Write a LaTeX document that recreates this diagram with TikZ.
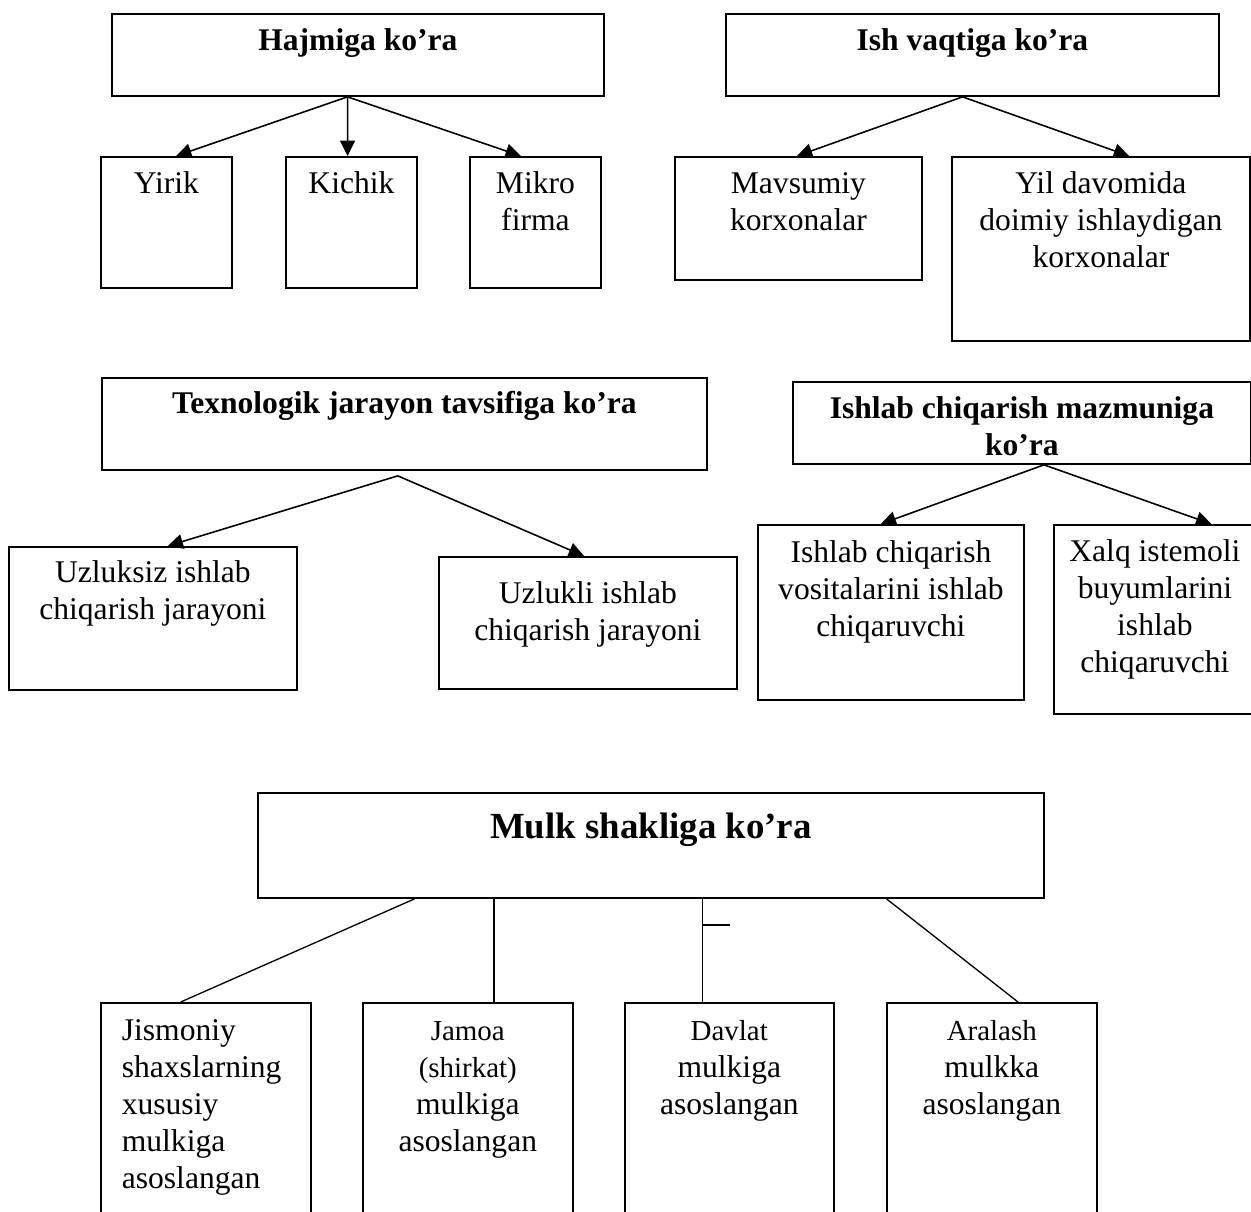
\documentclass[tikz,border=0pt]{standalone}
\usepackage{fontspec}
\setmainfont{Liberation Serif}
\usetikzlibrary{calc, arrows.meta}
\hyphenpenalty=10000
\exhyphenpenalty=10000
\newcommand\smtext[1]{{\fontsize{11}{13}\selectfont #1}}

\begin{document}
\begin{tikzpicture}[
    x=0.38pt, y=-0.38pt,
    box/.style={draw, line width=0.7pt, anchor=north west, inner xsep=0pt,
        inner ysep=0pt, align=flush center, font=\fontsize{12}{14}\selectfont},
    head/.style={box, font=\fontsize{12}{14}\selectfont\bfseries},
    sz/.code n args={3}{%
        \pgfmathsetlengthmacro\boxw{#1*0.38pt}%
        \pgfmathsetlengthmacro\boxht{#3*0.38pt}%
        \pgfmathsetlengthmacro\boxdp{(#2-#3)*0.38pt}%
        \tikzset{text width=\boxw, text height=\boxht, text depth=\boxdp}},
    arr/.style={line width=0.6pt, -{Triangle[length=5.8pt, width=5.6pt]}},
    lnk/.style={line width=0.5pt},
  ]
  \useasboundingbox (0,0) rectangle (1251,1211);

  % hajmiga ko'ra
  \node[head, sz={492}{82}{37}] (hajm) at (111,13) {Hajmiga ko’ra};
  \node[box, sz={131}{131}{37}] (yirik) at (100,156) {Yirik};
  \node[box, sz={131}{131}{37}] (kichik) at (285,156) {Kichik};
  \node[box, sz={131}{131}{37}] (mikro) at (469,156) {Mikro\\firma};

  % ish vaqtiga ko'ra
  \node[head, sz={493}{82}{37}] (ish) at (725,13) {Ish vaqtiga ko’ra};
  \node[box, sz={247}{123}{37}] (mavs) at (674,156) {Mavsumiy\\korxonalar};
  \node[box, sz={298}{184}{37}] (yil) at (951,156)
    {Yil davomida\\doimiy ishlaydigan\\korxonalar};

  % texnologik jarayon
  \node[head, sz={605}{92}{36}] (tex) at (101,377)
    {Texnologik jarayon tavsifiga ko’ra};
  \node[box, sz={288}{143}{36}] (uzs) at (8,546)
    {Uzluksiz ishlab\\chiqarish jarayoni};
  \node[box, sz={298}{132}{47}] (uzl) at (438,556)
    {Uzlukli ishlab\\chiqarish jarayoni};

  % ishlab chiqarish mazmuni
  \node[head, sz={458}{82}{37}] (maz) at (792,381)
    {Ishlab chiqarish mazmuniga\\ko’ra};
  \node[box, sz={266}{175}{38}] (vos) at (757,524)
    {Ishlab chiqarish\\vositalarini ishlab\\chiqaruvchi};
  \node[box, sz={202}{189}{37}] (xalq) at (1053,524)
    {Xalq istemoli\\buyumlarini\\ishlab\\chiqaruvchi};

  % mulk shakli
  \node[head, sz={786}{105}{46}, font=\fontsize{14}{16}\selectfont\bfseries]
    (mulk) at (257,792) {Mulk shakliga ko’ra};
  \node[box, sz={168}{240}{38}, align=flush left, inner xsep=8pt, line width=0.6pt]
    (jism) at (100,1002)
    {Jismoniy\\shaxslarning\\xususiy\\mulkiga\\asoslangan};
  \node[box, sz={210}{240}{38}, line width=0.6pt] (jam) at (362,1002)
    {\smtext{Jamoa}\\\smtext{(shirkat)}\\mulkiga\\asoslangan};
  \node[box, sz={209}{240}{38}, line width=0.6pt] (dav) at (624,1002)
    {\smtext{Davlat}\\mulkiga\\asoslangan};
  \node[box, sz={210}{240}{38}, line width=0.6pt] (aral) at (886,1002)
    {\smtext{Aralash}\\mulkka\\asoslangan};

  % arrows
  \foreach \src/\fs/\dst/\fd in {hajm/0.479/yirik/0.573, hajm/0.479/kichik/0.471,
      hajm/0.479/mikro/0.39, ish/0.48/mavs/0.494, ish/0.48/yil/0.594,
      maz/0.548/vos/0.462, maz/0.548/xalq/0.777}
    \draw[arr] ($(\src.south west)!\fs!(\src.south east)$)
      -- ($(\dst.north west)!\fd!(\dst.north east)$);
  \draw[arr] ($(tex.south west)!0.489!(tex.south east)+(0,5)$)
    -- ($(uzs.north west)!0.551!(uzs.north east)$);
  \draw[arr] ($(tex.south west)!0.489!(tex.south east)+(0,5)$)
    -- ($(uzl.north west)!0.487!(uzl.north east)$);

  % plain links
  \draw[lnk] ($(mulk.south west)!0.2!(mulk.south east)$)
    -- ($(jism.north west)!0.381!(jism.north east)$);
  \draw[lnk] ($(jam.north west)!0.624!(jam.north east)$) coordinate (j2)
    -- (j2 |- mulk.south);
  \draw[lnk] ($(dav.north west)!0.373!(dav.north east)$) coordinate (d2)
    -- (d2 |- mulk.south);
  \draw[lnk] ($(d2 |- mulk.south)+(0,26)$) -- ++(27,0);
  \draw[lnk] ($(mulk.south west)!0.799!(mulk.south east)$)
    -- ($(aral.north west)!0.624!(aral.north east)$);
\end{tikzpicture}
\end{document}
